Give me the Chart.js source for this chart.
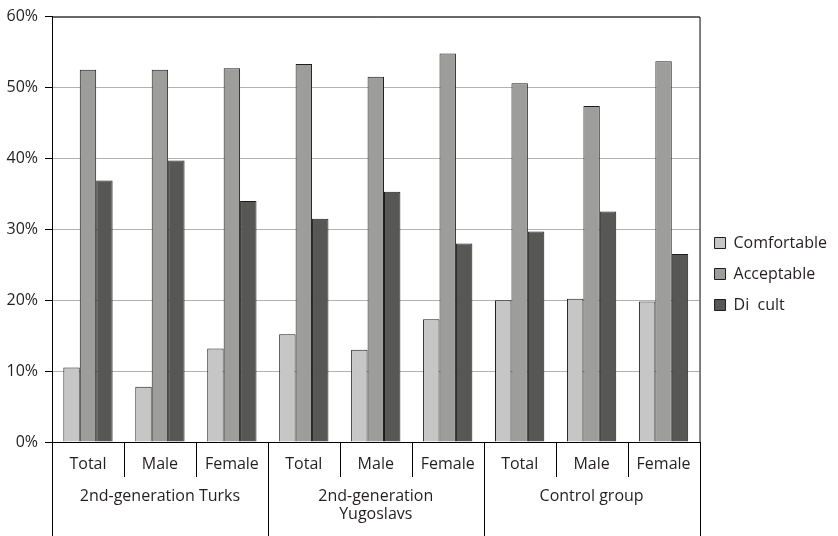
<!DOCTYPE html>
<html lang="en">
<head>
    <meta charset="UTF-8">
    <title>Comfortable / Acceptable / Difficult</title>
    <script src="https://cdn.jsdelivr.net/npm/chart.js"></script>
    <style>
        html, body { margin: 0; padding: 0; background: #fff; }
        #wrap { width: 838px; height: 536px; }
    </style>
</head>
<body>
    <div id="wrap"><canvas id="chart"></canvas></div>

    <script>
        // sub-categories (x axis, first row)
        const subLabels = ["Total", "Male", "Female", "Total", "Male", "Female", "Total", "Male", "Female"];
        // groups (x axis, second row), each spans 3 sub-categories
        const groupLabels = [["2nd-generation Turks"], ["2nd-generation", "Yugoslavs"], ["Control group"]];
        const groupSize = 3;

        const seriesNames = ["Comfortable", "Acceptable", "Di  cult"];
        const comfortable = [10.5, 7.8, 13.2, 15.2, 13.0, 17.3, 20.0, 20.2, 19.8];
        const acceptable  = [52.5, 52.5, 52.7, 53.3, 51.5, 54.8, 50.6, 47.4, 53.7];
        const difficult   = [36.9, 39.7, 34.0, 31.5, 35.3, 28.0, 29.7, 32.5, 26.5];

        const yTicks = [0, 10, 20, 30, 40, 50, 60];

        const FONT = "'Open Sans', 'Noto Sans', sans-serif";
        const TEXT = "#231f20";
        const SIZE = 16;

        // lines between categories + group labels under the axis
        const groupAxis = {
            id: "groupAxis",
            afterDraw(chart) {
                const ctx = chart.ctx;
                const area = chart.chartArea;
                const n = subLabels.length;
                const w = (area.right - area.left) / n;
                ctx.save();
                ctx.strokeStyle = "#000";
                ctx.lineWidth = 1;
                // frame top + right
                ctx.beginPath();
                ctx.moveTo(area.left, area.top + 0.5);
                ctx.lineTo(area.right + 0.5, area.top + 0.5);
                ctx.lineTo(area.right + 0.5, area.bottom);
                ctx.stroke();
                for (let i = 0; i <= n; i++) {
                    const x = Math.round(area.left + w * i) + 0.5;
                    const isGroup = i % groupSize === 0;
                    ctx.beginPath();
                    ctx.moveTo(x, area.bottom);
                    ctx.lineTo(x, isGroup ? chart.height : area.bottom + 35);
                    ctx.stroke();
                }
                ctx.fillStyle = TEXT;
                ctx.font = SIZE + "px " + FONT;
                ctx.textAlign = "center";
                ctx.textBaseline = "middle";
                groupLabels.forEach((lines, g) => {
                    const cx = area.left + w * (g * groupSize + groupSize / 2);
                    lines.forEach((line, k) => {
                        ctx.fillText(line, cx, area.bottom + 54 + k * 18);
                    });
                });
                ctx.restore();
            }
        };

        const ctx = document.getElementById("chart").getContext("2d");
        new Chart(ctx, {
            type: "bar",
            data: {
                labels: subLabels,
                datasets: [
                    { label: seriesNames[0], data: comfortable, backgroundColor: "#c6c6c6" },
                    { label: seriesNames[1], data: acceptable,  backgroundColor: "#9d9d9c" },
                    { label: seriesNames[2], data: difficult,   backgroundColor: "#575756" }
                ].map(d => Object.assign(d, {
                    borderColor: "#1d1d1b",
                    borderWidth: 1,
                    categoryPercentage: 0.685,
                    barPercentage: 1
                }))
            },
            options: {
                responsive: true,
                maintainAspectRatio: false,
                animation: false,
                layout: { padding: { top: 12, right: 1, bottom: 0, left: 0 } },
                plugins: {
                    tooltip: { enabled: false },
                    legend: {
                        position: "right",
                        align: "center",
                        labels: {
                            boxWidth: 11,
                            boxHeight: 11,
                            padding: 15,
                            color: TEXT,
                            font: { size: SIZE, family: FONT }
                        }
                    }
                },
                scales: {
                    x: {
                        grid: { display: false },
                        border: { color: "#000", width: 1 },
                        ticks: {
                            color: TEXT,
                            padding: 5,
                            maxRotation: 0,
                            autoSkip: false,
                            font: { size: SIZE, family: FONT }
                        },
                        afterFit: s => { s.height = 94; }
                    },
                    y: {
                        min: 0,
                        max: 60,
                        afterBuildTicks: s => { s.ticks = yTicks.map(v => ({ value: v })); },
                        grid: { color: "#b2b2b2", tickColor: "#000", tickLength: 7, lineWidth: 1 },
                        border: { color: "#000", width: 1 },
                        ticks: {
                            color: TEXT,
                            padding: 7,
                            font: { size: SIZE, family: FONT },
                            callback: v => v + "%"
                        },
                        afterFit: s => { s.width = 52; }
                    }
                }
            },
            plugins: [groupAxis]
        });
    </script>
</body>
</html>
